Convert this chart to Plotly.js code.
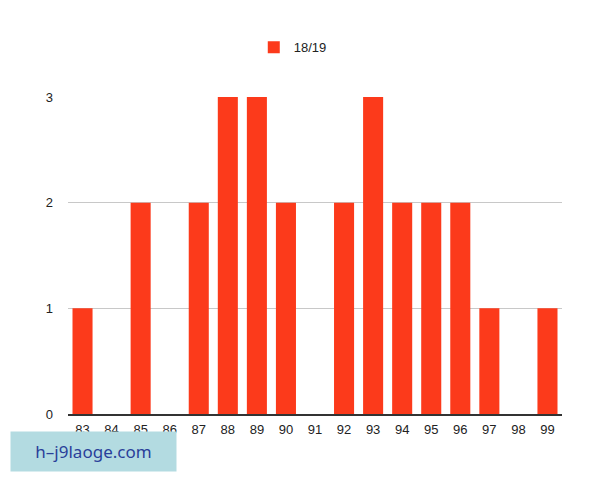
<!DOCTYPE html>
<html>
<head>
<meta charset="utf-8">
<script src="https://cdn.plot.ly/plotly-3.0.1.min.js"></script>
<style>html,body{margin:0;padding:0;background:#fff;}#chart{width:600px;height:480px;}</style>
</head>
<body>
<div id="chart"></div>
<script>
const categories = ["83","84","85","86","87","88","89","90","91","92","93","94","95","96","97","98","99"];
const values = [1,0,2,0,2,3,3,2,0,2,3,2,2,2,1,0,1];
const seriesName = "18/19";
const yTicks = [0,1,2,3];
const watermark = "h\u2013j9laoge.com";

const trace = {
  type: "bar",
  x: categories,
  y: values,
  name: seriesName,
  marker: {color: "#fc3a1b"},
  showlegend: true
};

const layout = {
  width: 600, height: 480,
  margin: {l: 68, r: 38, t: 97, b: 66},
  paper_bgcolor: "#fff", plot_bgcolor: "#fff",
  font: {family: "Liberation Sans, Arial, sans-serif", size: 13, color: "#222"},
  bargap: 0.31,
  showlegend: true,
  legend: {orientation: "h", x: 0.455, xanchor: "center", y: 0.87, yanchor: "bottom", yref: "container", font: {size: 13, color: "#222"}},
  xaxis: {
    type: "category",
    range: [-0.5, 16.5],
    showgrid: false,
    showline: true, linecolor: "#333", linewidth: 1.5,
    ticks: "", ticklabelstandoff: 3, tickfont: {size: 13, color: "#222"},
    fixedrange: true
  },
  yaxis: {
    range: [0, 3],
    tickvals: yTicks,
    showgrid: true, gridcolor: "#c8c8c8", gridwidth: 1,
    zeroline: false, showline: false,
    ticks: "", ticklabelstandoff: 14,
    tickfont: {size: 13, color: "#222"},
    fixedrange: true
  },
  annotations: [{
    xref: "paper", yref: "paper",
    x: -0.117, y: -0.054, xanchor: "left", yanchor: "top",
    text: watermark, showarrow: false,
    font: {size: 17, color: "#2a3f9a", family: "Noto Sans, Arial, sans-serif"},
    bgcolor: "#b3dbe1",
    width: 163, height: 37,
    align: "center"
  }]
};
Plotly.newPlot("chart", [trace], layout, {displayModeBar: false, staticPlot: true});
</script>
</body>
</html>
